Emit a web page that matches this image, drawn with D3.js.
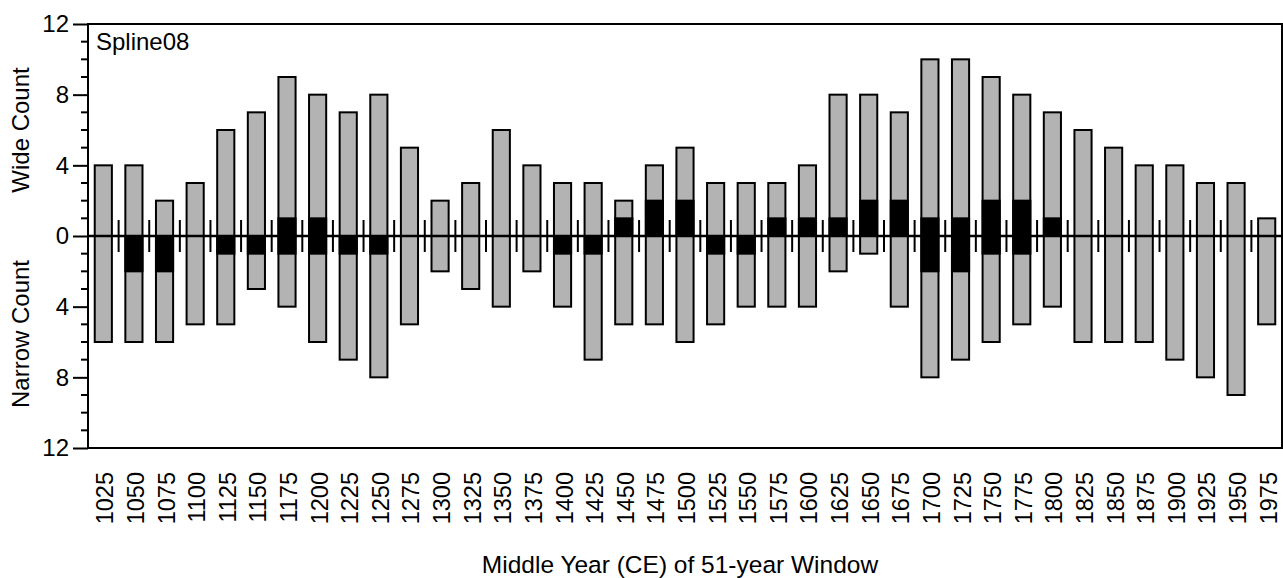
<!DOCTYPE html>
<html><head><meta charset="utf-8">
<script src="https://cdn.jsdelivr.net/npm/d3@7"></script>
<style>body{margin:0;background:#fff}text{font-family:"Liberation Sans",Arial,sans-serif;fill:#000}</style>
</head><body><svg id="c" width="1283" height="578"></svg>
<script>
const years = [1025,1050,1075,1100,1125,1150,1175,1200,1225,1250,1275,1300,1325,1350,1375,1400,1425,1450,1475,1500,1525,1550,1575,1600,1625,1650,1675,1700,1725,1750,1775,1800,1825,1850,1875,1900,1925,1950,1975];
const wideCount   = [4,4,2,3,6,7,9,8,7,8,5,2,3,6,4,3,3,2,4,5,3,3,3,4,8,8,7,10,10,9,8,7,6,5,4,4,3,3,1];
const narrowCount = [6,6,6,5,5,3,4,6,7,8,5,2,3,4,2,4,7,5,5,6,5,4,4,4,2,1,4,8,7,6,5,4,6,6,6,7,8,9,5];
const wideBlack   = [0,0,0,0,0,0,1,1,0,0,0,0,0,0,0,0,0,1,2,2,0,0,1,1,1,2,2,1,1,2,2,1,0,0,0,0,0,0,0];
const narrowBlack = [0,2,2,0,1,1,1,1,1,1,0,0,0,0,0,1,1,0,0,0,1,1,0,0,0,0,0,2,2,1,1,0,0,0,0,0,0,0,0];
const yTicks = [-12,-8,-4,0,4,8,12];

const svg = d3.select("#c");
const L=88, R=1282, T=24, B=448;
const x = d3.scaleBand().domain(years).range([L,R]).paddingInner(0.44).paddingOuter(0.22);
const y = d3.scaleLinear().domain([-12,12]).range([B,T]);
const bw = x.bandwidth();

// gray bars
svg.append("g").selectAll("rect").data(years).join("rect")
  .attr("x",d=>x(d)).attr("width",bw)
  .attr("y",(d,i)=>y(wideCount[i])).attr("height",(d,i)=>y(-narrowCount[i])-y(wideCount[i]))
  .attr("fill","#b3b3b3").attr("stroke","#000").attr("stroke-width",2);
// black up
svg.append("g").selectAll("rect").data(years.filter((d,i)=>wideBlack[i]>0)).join("rect")
  .attr("x",d=>x(d)).attr("width",bw)
  .attr("y",d=>y(wideBlack[years.indexOf(d)])).attr("height",d=>y(0)-y(wideBlack[years.indexOf(d)]))
  .attr("fill","#000").attr("stroke","#000").attr("stroke-width",2);
// black down
svg.append("g").selectAll("rect").data(years.filter((d,i)=>narrowBlack[i]>0)).join("rect")
  .attr("x",d=>x(d)).attr("width",bw)
  .attr("y",y(0)).attr("height",d=>y(-narrowBlack[years.indexOf(d)])-y(0))
  .attr("fill","#000").attr("stroke","#000").attr("stroke-width",2);

// zero line
svg.append("line").attr("x1",L).attr("x2",R).attr("y1",y(0)).attr("y2",y(0)).attr("stroke","#000").attr("stroke-width",2.5);
// boundary ticks
const step = x.step();
const bounds = years.slice(0,-1).map(d=>x(d)+bw+(step-bw)/2);
svg.append("g").selectAll("line").data(bounds).join("line")
  .attr("x1",d=>d).attr("x2",d=>d).attr("y1",y(0)-16).attr("y2",y(0)+16)
  .attr("stroke","#000").attr("stroke-width",2);

// frame
svg.append("rect").attr("x",L).attr("y",T).attr("width",R-L).attr("height",B-T).attr("fill","none").attr("stroke","#000").attr("stroke-width",2);

// y axis major
const yAxis = d3.axisLeft(y).tickValues(yTicks).tickSize(15).tickPadding(4).tickFormat(d=>Math.abs(d));
const ga = svg.append("g").attr("transform",`translate(${L},0)`).call(yAxis);
ga.select(".domain").remove();
ga.selectAll("line").attr("stroke-width",2);
ga.selectAll("text").style("font-size","24px").style("font-family","Liberation Sans, Arial, sans-serif");
// minor
const minor = d3.range(-12,13).filter(v=>v%4!==0);
svg.append("g").selectAll("line").data(minor).join("line")
  .attr("x1",L-7).attr("x2",L).attr("y1",d=>y(d)).attr("y2",d=>y(d)).attr("stroke","#000").attr("stroke-width",2);

// x labels
svg.append("g").selectAll("text").data(years).join("text")
  .attr("transform",d=>`translate(${x(d)+bw/2+10},472) rotate(-90)`)
  .attr("text-anchor","end").style("font-size","23.5px").text(d=>d);

// titles
svg.append("text").attr("transform",`translate(29,130) rotate(-90)`).attr("text-anchor","middle").style("font-size","24px").text("Wide Count");
svg.append("text").attr("transform",`translate(29,334) rotate(-90)`).attr("text-anchor","middle").style("font-size","24px").text("Narrow Count");
svg.append("text").attr("x",680).attr("y",573).attr("text-anchor","middle").style("font-size","24.5px").text("Middle Year (CE) of 51-year Window");
svg.append("text").attr("x",96).attr("y",50).style("font-size","24px").text("Spline08");
</script></body></html>
